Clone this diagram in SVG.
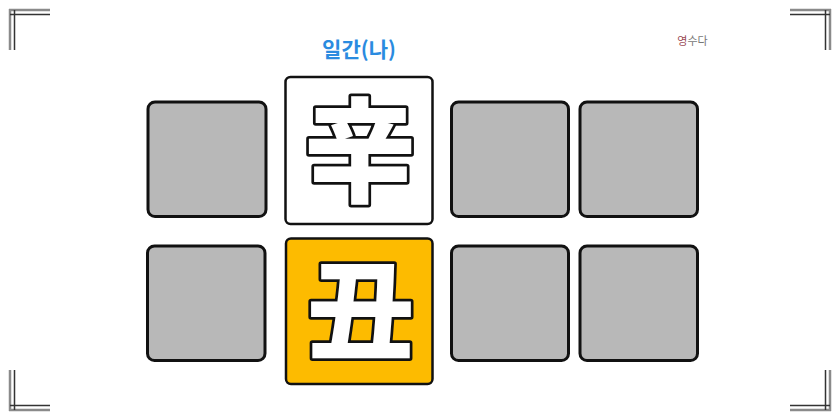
<svg xmlns="http://www.w3.org/2000/svg" width="840" height="420" viewBox="0 0 840 420">
<style>
.g{stroke:#8a8a8a;stroke-width:2.5;fill:none}
.d{stroke:#333;stroke-width:1.5;fill:none}
.cell{fill:#b8b8b8;stroke:#111;stroke-width:3}
.han{font-family:"Noto Sans CJK KR","Noto Sans CJK SC",sans-serif;font-weight:900;fill:#fff;stroke:#111;stroke-width:5.5;stroke-linejoin:round;paint-order:stroke;text-anchor:middle}
</style>
<rect width="840" height="420" fill="#fff"/>
<g id="corners">
<path class="g" d="M9 10H50M10 9V50M790 10H831M830 9V50M9 410H50M10 370V411M790 410H831M830 370V411"/>
<path class="d" d="M10 14.5H50M14.5 10V50M790 14.5H830M825.5 10V50M10 405.5H50M14.5 370V410M790 405.5H830M825.5 370V410"/>
</g>
<text x="359" y="57" font-family="'Noto Sans CJK KR',sans-serif" font-weight="bold" font-size="21" fill="#2a8be0" text-anchor="middle">일간(나)</text>
<text x="692.5" y="45" font-family="'Noto Sans CJK KR',sans-serif" font-size="11" fill="#777" text-anchor="middle"><tspan fill="#9a4a55">영</tspan>수다</text>
<g id="r1c1"><rect class="cell" x="148" y="102" width="118" height="114.5" rx="7"/></g>
<g id="r1c2"><rect x="285.5" y="77" width="147" height="147" rx="5" fill="#fff" stroke="#111" stroke-width="2.5"/><text class="han" x="360" y="193" font-size="113">辛</text></g>
<g id="r1c3"><rect class="cell" x="451.5" y="102" width="117" height="114.5" rx="7"/></g>
<g id="r1c4"><rect class="cell" x="580" y="102" width="117.5" height="114.5" rx="7"/></g>
<g id="r2c1"><rect class="cell" x="147.5" y="246" width="117.5" height="114.5" rx="7"/></g>
<g id="r2c2"><rect x="286" y="238.5" width="146.5" height="145.5" rx="5" fill="#fdbb00" stroke="#111" stroke-width="2.5"/><text class="han" x="361" y="351" font-size="108">丑</text></g>
<g id="r2c3"><rect class="cell" x="451.5" y="246" width="117" height="114.5" rx="7"/></g>
<g id="r2c4"><rect class="cell" x="580" y="246" width="117.5" height="114.5" rx="7"/></g>
<g id="connectors"></g>
</svg>
